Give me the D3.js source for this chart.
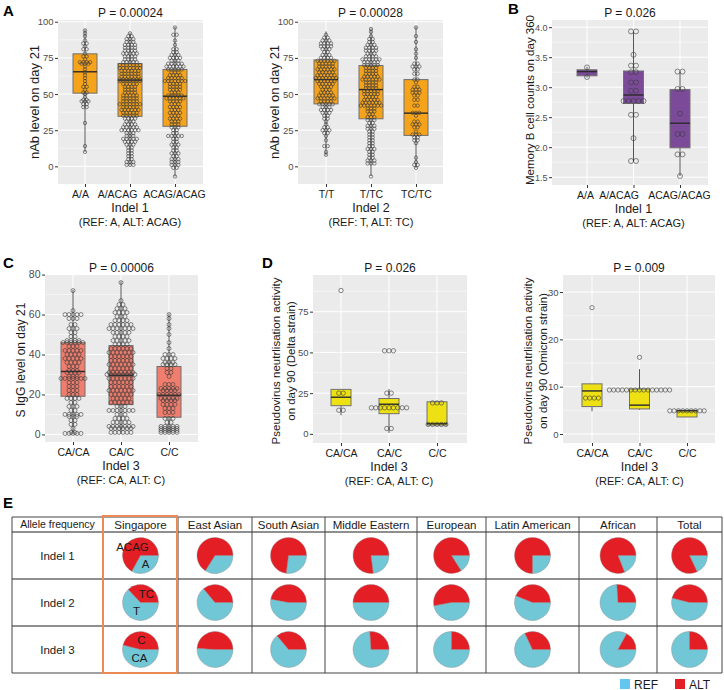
<!DOCTYPE html>
<html>
<head>
<meta charset="utf-8">
<script src="https://cdn.jsdelivr.net/npm/d3@7"></script>
<style>
  body { margin: 0; background: #fff; }
  text { font-family: "Liberation Sans", Arial, sans-serif; }
</style>
</head>
<body>
<script>
// ---- data ----
const indel1Genotypes = ["A/A", "A/ACAG", "ACAG/ACAG"];
const indel2Genotypes = ["T/T", "T/TC", "TC/TC"];
const indel3Genotypes = ["CA/CA", "CA/C", "C/C"];

const nabTicks = [0, 25, 50, 75, 100];
const memBTicks = [1.5, 2.0, 2.5, 3.0, 3.5, 4.0];
const iggTicks = [0, 20, 40, 60, 80];
const deltaTicks = [0, 25, 50, 75];
const omicronTicks = [0, 10, 20, 30];

// box stats: [lower whisker, q1, median, q3, upper whisker]
const nabIndel1Box = [[10, 50.6, 65.4, 77.8, 94.7], [0.7, 34.6, 59.6, 71.1, 92.4], [-7, 27.7, 48.5, 67, 96.5]];
const nabIndel2Box = [[7.6, 43.2, 60, 73.6, 93.3], [-6.7, 32.9, 53.1, 69.7, 95.4], [-1.1, 21.4, 36.8, 60, 96.8]];
const memBBox = [[3.16, 3.19, 3.26, 3.29, 3.34], [1.76, 2.73, 2.87, 3.27, 3.93], [1.52, 1.99, 2.40, 2.96, 3.26]];
const iggBox = [[0.5, 19.1, 31.5, 45.9, 72.4], [0.5, 14.9, 29.6, 44.5, 76.6], [0.5, 8.6, 19.6, 34, 60.5]];
const deltaBox = [[11.4, 17.3, 22.5, 27.3, 27.3], [0.6, 12.4, 18.2, 21.7, 27.5], [5.4, 5.4, 6.2, 19.7, 19.7]];
const omicronBox = [[4.8, 5.8, 9.1, 10.6, 10.6], [5.1, 5.3, 6.1, 9.5, 13.7], [3.6, 3.6, 4.9, 5.0, 5.0]];

// dot rows: [value, number of dots in the row]
const nabIndel1Dots = [
  [[94,1],[92,1],[90,1],[87,1],[85,2],[83,1],[81,2],[78,1],[76,2],[74,1],[72,4],[71,3],[69,1],[67,1],[65,1],[63,1],[61,1],[59,1],[57,1],[55,2],[53,1],[51,2],[50,1],[48,1],[46,2],[45,3],[43,2],[41,2],[30,1],[14,1],[10,1]],
  [[92,1],[90,2],[88,3],[86,3],[84,4],[82,4],[80,4],[78,5],[76,4],[74,4],[72,5],[70,7],[68,7],[66,6],[64,6],[62,6],[60,7],[59,7],[57,5],[55,4],[53,4],[51,4],[49,5],[47,5],[45,5],[43,7],[41,5],[39,6],[37,5],[35,5],[33,4],[31,3],[29,4],[27,5],[25,6],[23,3],[21,3],[19,5],[17,4],[15,3],[13,2],[11,2],[9,2],[7,2],[5,2],[3,3],[1,3]],
  [[96,1],[91,2],[87,1],[84,1],[81,2],[79,2],[77,3],[75,4],[73,3],[71,5],[69,6],[67,5],[65,3],[63,4],[61,5],[59,7],[57,4],[55,4],[53,4],[51,3],[49,5],[47,6],[45,4],[43,3],[41,4],[39,3],[37,4],[35,3],[33,4],[31,3],[29,3],[27,3],[25,2],[23,2],[21,5],[19,2],[17,2],[15,3],[13,2],[11,2],[9,3],[7,2],[5,3],[3,3],[1,3],[-1,2],[-7,1]]
];
const nabIndel2Dots = [
  [[91,1],[89,2],[87,3],[85,4],[83,4],[81,3],[79,2],[77,3],[75,4],[73,6],[71,5],[69,5],[67,6],[65,5],[63,6],[61,7],[59,6],[57,5],[55,4],[53,3],[51,4],[49,5],[47,6],[45,4],[43,5],[41,3],[39,4],[37,3],[35,2],[33,2],[31,1],[29,1],[27,2],[25,3],[23,2],[21,1],[18,1],[14,2],[10,1],[8,1]],
  [[95,1],[93,1],[90,1],[88,2],[86,2],[84,3],[82,4],[80,4],[78,3],[76,4],[74,6],[72,5],[70,5],[68,4],[66,4],[64,4],[62,5],[60,6],[58,4],[56,4],[54,4],[52,5],[50,5],[48,4],[46,5],[44,6],[42,7],[40,3],[38,3],[36,2],[34,3],[32,3],[30,2],[28,3],[26,3],[24,2],[22,2],[20,2],[18,2],[16,2],[14,2],[12,3],[10,2],[8,2],[6,2],[4,3],[2,3],[-7,1]],
  [[96,1],[90,1],[86,1],[81,1],[78,1],[75,1],[71,2],[69,3],[67,2],[64,2],[60,2],[58,1],[55,2],[53,3],[51,3],[49,2],[46,2],[42,2],[37,3],[35,1],[31,2],[29,3],[27,2],[24,1],[22,3],[20,2],[18,2],[16,1],[6,1],[3,1],[1,2],[-1,1]]
];
const memBDots = [
  [[3.33,1],[3.17,1]],
  [[3.93,2],[3.54,1],[3.36,2],[3.25,2],[3.08,2],[2.94,2],[2.77,5],[2.54,2],[2.15,1],[1.77,2]],
  [[3.26,2],[2.97,2],[2.56,1],[2.22,2],[1.88,2],[1.52,1]]
];
const iggDots = [
  [[72,1],[62,1],[60,5],[58,3],[55,2],[53,3],[51,2],[49,2],[47,4],[46,6],[44,3],[42,5],[40,4],[38,5],[36,4],[34,3],[32,3],[31,4],[29,3],[28,7],[26,3],[24,3],[22,3],[20,3],[18,4],[16,2],[14,3],[12,2],[10,5],[9,3],[7,2],[5,2],[3,1],[1,2],[0.5,5]],
  [[76,1],[67,1],[65,2],[63,3],[61,4],[59,3],[57,4],[55,6],[53,7],[51,5],[49,4],[47,5],[45,4],[43,6],[41,7],[39,6],[37,6],[35,7],[33,6],[31,7],[30,8],[28,7],[26,6],[24,6],[22,7],[20,6],[18,5],[16,6],[14,3],[12,7],[10,3],[8,4],[6,5],[4,7],[3,6],[1,6]],
  [[60,1],[58,1],[55,1],[53,1],[50,1],[46,1],[43,1],[40,3],[38,4],[36,3],[35,4],[33,2],[31,2],[29,1],[25,3],[23,5],[22,4],[20,6],[18,5],[17,4],[15,4],[13,3],[11,3],[8,3],[6,2],[4,5],[3,5],[2,5],[1,5]]
];
const deltaDots = [
  [[88,1],[25,2],[14.5,2]],
  [[51,3],[25,2],[16,9],[3.3,2]],
  [[19,3],[5.8,5]]
];
const omicronDots = [
  [[26.7,1],[7.6,4]],
  [[16.2,1],[9.3,15]],
  [[4.9,9]]
];

const populations = ["Singapore", "East Asian", "South Asian", "Middle Eastern", "European", "Latin American", "African", "Total"];
const indels = ["Indel 1", "Indel 2", "Indel 3"];
const refFreqIndel1 = [0.33, 0.34, 0.27, 0.23, 0.16, 0.25, 0.19, 0.18];
const refFreqIndel2 = [0.63, 0.64, 0.53, 0.50, 0.47, 0.56, 0.74, 0.54];
const refFreqIndel3 = [0.54, 0.51, 0.64, 0.74, 0.75, 0.68, 0.83, 0.75];
const singaporeAlleles = [["A", "ACAG"], ["T", "TC"], ["CA", "C"]];

// ---- drawing ----
const svg = d3.select("body").append("svg").attr("width", 724).attr("height", 690);

function drawPanel(p) {
  const x = d3.scalePoint().domain(p.cats).range(p.catRange);
  const y = d3.scaleLinear().domain(p.domain).range([p.bottom, p.top]);
  const g = svg.append("g");

  g.append("rect").attr("x", p.left).attr("y", p.top)
    .attr("width", p.right - p.left).attr("height", p.bottom - p.top).attr("fill", "#EBEBEB");

  const step = p.ticks[1] - p.ticks[0];
  const minor = d3.range(p.ticks[0] - step / 2, p.ticks[p.ticks.length - 1] + step, step)
    .filter(v => v > p.domain[0] && v < p.domain[1]);
  g.selectAll(".minor").data(minor).join("line")
    .attr("x1", p.left).attr("x2", p.right).attr("y1", d => y(d)).attr("y2", d => y(d))
    .attr("stroke", "#fff").attr("stroke-width", 0.5);
  g.selectAll(".major").data(p.ticks).join("line")
    .attr("x1", p.left).attr("x2", p.right).attr("y1", d => y(d)).attr("y2", d => y(d))
    .attr("stroke", "#fff").attr("stroke-width", 1);
  g.selectAll(".vgrid").data(p.cats).join("line")
    .attr("x1", d => x(d)).attr("x2", d => x(d)).attr("y1", p.top).attr("y2", p.bottom)
    .attr("stroke", "#fff").attr("stroke-width", 1);

  const ya = g.append("g").attr("transform", `translate(${p.left},0)`)
    .call(d3.axisLeft(y).tickValues(p.ticks).tickSize(3).tickPadding(1.5).tickFormat(p.fmt));
  ya.select(".domain").remove();
  ya.selectAll("line").attr("stroke", "#333");
  ya.selectAll("text").attr("fill", "#4D4D4D").style("font-size", p.tickFont + "px");

  const xa = g.append("g").attr("transform", `translate(0,${p.bottom})`)
    .call(d3.axisBottom(x).tickSize(3).tickPadding(4));
  xa.select(".domain").remove();
  xa.selectAll("line").attr("stroke", "#333");
  xa.selectAll("text").attr("fill", "#1A1A1A").style("font-size", "10.5px")
    .attr("dx", (d, i) => p.labelDx[i]);

  p.cats.forEach((c, i) => {
    const [lo, q1, med, q3, hi] = p.box[i];
    const cx = x(c);
    g.append("line").attr("x1", cx).attr("x2", cx).attr("y1", y(lo)).attr("y2", y(hi))
      .attr("stroke", "#555").attr("stroke-width", 1);
    g.append("rect").attr("x", cx - p.boxW / 2).attr("y", y(q3))
      .attr("width", p.boxW).attr("height", y(q1) - y(q3))
      .attr("fill", p.fill).attr("stroke", "#707070").attr("stroke-width", 1);
    g.append("line").attr("x1", cx - p.boxW / 2).attr("x2", cx + p.boxW / 2)
      .attr("y1", y(med)).attr("y2", y(med)).attr("stroke", "#2a2a2a").attr("stroke-width", 1.4);
    p.dots[i].forEach(([v, n]) => {
      d3.range(n).forEach(k => {
        g.append("circle").attr("cx", cx + (k - (n - 1) / 2) * p.r * 2).attr("cy", y(v)).attr("r", p.r)
          .attr("fill", "none").attr("stroke", "#3a3a3a").attr("stroke-width", 0.6);
      });
    });
  });

  const mid = (p.left + p.right) / 2;
  g.append("text").attr("x", mid).attr("y", p.top - 3).attr("text-anchor", "middle")
    .style("font-size", "12px").attr("fill", "#1A1A1A").text(p.title);
  p.ylabel.forEach((t, k) => {
    g.append("text").attr("transform", `translate(${p.ylabelX + k * 14.5},${p.ylabelY}) rotate(-90)`)
      .attr("text-anchor", "middle").style("font-size", p.ylabelSize + "px").attr("fill", "#1A1A1A").text(t);
  });
  g.append("text").attr("x", x(p.cats[1])).attr("y", p.bottom + 28).attr("text-anchor", "middle")
    .style("font-size", "12.5px").attr("fill", "#1A1A1A").text(p.xlabel);
  g.append("text").attr("x", x(p.cats[1])).attr("y", p.bottom + 41.5).attr("text-anchor", "middle")
    .style("font-size", "11px").attr("fill", "#1A1A1A").text(p.xsub);
}

const fmtInt = d3.format("d");
const fmtOne = d3.format(".1f");

const panels = [
  { cats: indel1Genotypes, box: nabIndel1Box, dots: nabIndel1Dots, ticks: nabTicks, fmt: fmtInt, tickFont: 9.5,
    left: 58, right: 203, top: 20, bottom: 184, domain: [-12.2, 101.2], catRange: [85, 175],
    labelDx: [-5, -13, -1], boxW: 24, r: 1.7, fill: "#F5A31B",
    title: "P = 0.00024", ylabel: ["nAb level on day 21"], ylabelX: 39, ylabelY: 102, ylabelSize: 13,
    xlabel: "Indel 1", xsub: "(REF: A, ALT: ACAG)" },
  { cats: indel2Genotypes, box: nabIndel2Box, dots: nabIndel2Dots, ticks: nabTicks, fmt: fmtInt, tickFont: 9.5,
    left: 298, right: 443, top: 20, bottom: 184, domain: [-12.2, 101.2], catRange: [326, 416],
    labelDx: [0, 0, 0], boxW: 24, r: 1.7, fill: "#F5A31B",
    title: "P = 0.00028", ylabel: ["nAb level on day 21"], ylabelX: 279, ylabelY: 102, ylabelSize: 13,
    xlabel: "Indel 2", xsub: "(REF: T, ALT: TC)" },
  { cats: indel1Genotypes, box: memBBox, dots: memBDots, ticks: memBTicks, fmt: fmtOne, tickFont: 9,
    left: 552, right: 708, top: 20, bottom: 185, domain: [1.37, 4.12], catRange: [587, 680],
    labelDx: [-2, -15, -1], boxW: 20, r: 2.5, fill: "#7B4B9A",
    title: "P = 0.026", ylabel: ["Memory B cell counts on day 360"], ylabelX: 534, ylabelY: 100, ylabelSize: 11.5,
    xlabel: "Indel 1", xsub: "(REF: A, ALT: ACAG)" },
  { cats: indel3Genotypes, box: iggBox, dots: iggDots, ticks: iggTicks, fmt: fmtInt, tickFont: 10.5,
    left: 45, right: 198, top: 275, bottom: 442, domain: [-3.8, 79.8], catRange: [73, 169],
    labelDx: [0, 0, 0], boxW: 24, r: 2, fill: "#F07E6E",
    title: "P = 0.00006", ylabel: ["S IgG level on day 21"], ylabelX: 25, ylabelY: 360, ylabelSize: 12,
    xlabel: "Indel 3", xsub: "(REF: CA, ALT: C)" },
  { cats: indel3Genotypes, box: deltaBox, dots: deltaDots, ticks: deltaTicks, fmt: fmtInt, tickFont: 9.5,
    left: 313, right: 467, top: 275, bottom: 443, domain: [-5.6, 97.5], catRange: [341, 437],
    labelDx: [0, 0, 0], boxW: 20, r: 2.2, fill: "#EDE114",
    title: "P = 0.026", ylabel: ["Pseudovirus neutrlisation activity", "on day 90 (Delta strain)"],
    ylabelX: 280, ylabelY: 361, ylabelSize: 11.5,
    xlabel: "Indel 3", xsub: "(REF: CA, ALT: C)" },
  { cats: indel3Genotypes, box: omicronBox, dots: omicronDots, ticks: omicronTicks, fmt: fmtInt, tickFont: 9.5,
    left: 563, right: 715, top: 275, bottom: 443, domain: [-1.9, 33.6], catRange: [592, 687],
    labelDx: [0, 0, 0], boxW: 20, r: 2.15, fill: "#EDE114",
    title: "P = 0.009", ylabel: ["Pseudovirus neutrlisation activity", "on day 90 (Omicron strain)"],
    ylabelX: 532, ylabelY: 361, ylabelSize: 11.5,
    xlabel: "Indel 3", xsub: "(REF: CA, ALT: C)" }
];
panels.forEach(drawPanel);

// panel letters
[["A", 3, 16], ["B", 508, 14], ["C", 3, 268], ["D", 262, 268], ["E", 3, 508]].forEach(([t, lx, ly]) => {
  svg.append("text").attr("x", lx).attr("y", ly).style("font-size", "15px").style("font-weight", "bold").text(t);
});

// ---- panel E: allele frequency table ----
const colEdges = [12, 103, 178, 252, 325, 417, 486, 579, 657, 722];
const rowEdges = [517, 532, 579, 626, 673];
const refColor = "#72C7D7", altColor = "#E31E24";
const te = svg.append("g");

[rowEdges[0], rowEdges[rowEdges.length - 1]].forEach(yy => {
  te.append("line").attr("x1", colEdges[0]).attr("x2", colEdges[colEdges.length - 1])
    .attr("y1", yy).attr("y2", yy).attr("stroke", "#444").attr("stroke-width", 1);
});
rowEdges.slice(1, -1).forEach(yy => {
  te.append("line").attr("x1", colEdges[0]).attr("x2", colEdges[colEdges.length - 1])
    .attr("y1", yy).attr("y2", yy).attr("stroke", "#6a6a6a").attr("stroke-width", 1.6);
});
colEdges.forEach(xx => {
  te.append("line").attr("x1", xx).attr("x2", xx).attr("y1", rowEdges[0]).attr("y2", rowEdges[rowEdges.length - 1])
    .attr("stroke", "#444").attr("stroke-width", 1);
});

te.append("text").attr("x", (colEdges[0] + colEdges[1]) / 2).attr("y", 528).attr("text-anchor", "middle")
  .style("font-size", "10.5px").attr("fill", "#1A1A1A").text("Allele frequency");
populations.forEach((pop, i) => {
  te.append("text").attr("x", (colEdges[i + 1] + colEdges[i + 2]) / 2).attr("y", 529).attr("text-anchor", "middle")
    .style("font-size", "11.5px").attr("fill", "#1A1A1A").text(pop);
});

const refFreqs = [refFreqIndel1, refFreqIndel2, refFreqIndel3];
const pie = d3.pie().sort(null).startAngle(Math.PI / 2).endAngle(Math.PI / 2 + 2 * Math.PI);
const arc = d3.arc().innerRadius(0).outerRadius(18);
indels.forEach((name, r) => {
  const cy = (rowEdges[r + 1] + rowEdges[r + 2]) / 2;
  te.append("text").attr("x", (colEdges[0] + colEdges[1]) / 2).attr("y", cy + 4).attr("text-anchor", "middle")
    .style("font-size", "11.5px").attr("fill", "#1A1A1A").text(name);
  populations.forEach((pop, i) => {
    const cx = (colEdges[i + 1] + colEdges[i + 2]) / 2;
    const f = refFreqs[r][i];
    te.append("g").attr("transform", `translate(${cx},${cy})`)
      .selectAll("path").data(pie([f, 1 - f])).join("path")
      .attr("d", arc).attr("fill", (d, k) => k === 0 ? refColor : altColor)
      .attr("stroke", "#8a8a8a").attr("stroke-width", 0.4);
  });
});

// allele names on the Singapore pies
const alleleOffsets = [[[5, 12], [-8, -5]], [[-4, 12], [6, -5]], [[-1, 12], [1, -6]]];
singaporeAlleles.forEach((pair, r) => {
  const cx = (colEdges[1] + colEdges[2]) / 2;
  const cy = (rowEdges[r + 1] + rowEdges[r + 2]) / 2;
  pair.forEach((t, k) => {
    te.append("text").attr("x", cx + alleleOffsets[r][k][0]).attr("y", cy + alleleOffsets[r][k][1])
      .attr("text-anchor", "middle").style("font-size", "11.5px").attr("fill", "#1A1A1A").text(t);
  });
});

// Singapore highlight
te.append("rect").attr("x", colEdges[1]).attr("y", rowEdges[0] - 1)
  .attr("width", colEdges[2] - colEdges[1] - 1).attr("height", rowEdges[rowEdges.length - 1] - rowEdges[0] + 1)
  .attr("fill", "none").attr("stroke", "#EC8A55").attr("stroke-width", 2);

// legend
[["REF", "#62C6EE", 620], ["ALT", altColor, 675]].forEach(([t, c, lx]) => {
  te.append("rect").attr("x", lx).attr("y", 679).attr("width", 10).attr("height", 10).attr("fill", c);
  te.append("text").attr("x", lx + 14).attr("y", 688.5).style("font-size", "12px").attr("fill", "#1A1A1A").text(t);
});
</script>
</body>
</html>
